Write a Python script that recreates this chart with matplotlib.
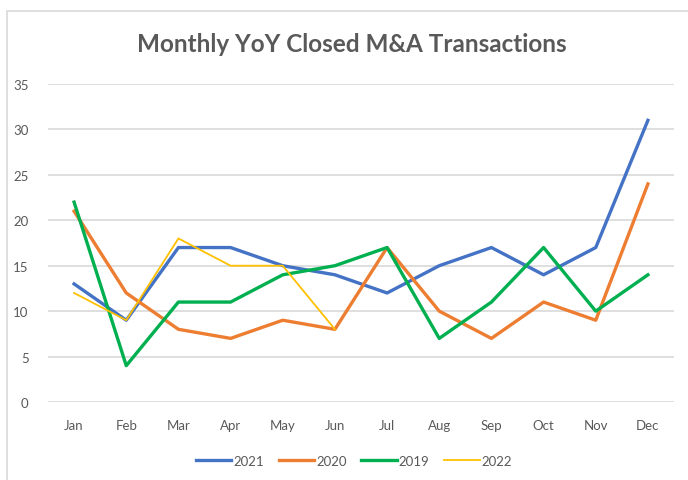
import matplotlib
matplotlib.use('Agg')
import matplotlib.pyplot as plt
from matplotlib.patches import Rectangle

# data
months = ['Jan', 'Feb', 'Mar', 'Apr', 'May', 'Jun', 'Jul', 'Aug', 'Sep', 'Oct', 'Nov', 'Dec']
y2021 = [13, 9, 17, 17, 15, 14, 12, 15, 17, 14, 17, 31]
y2020 = [21, 12, 8, 7, 9, 8, 17, 10, 7, 11, 9, 24]
y2019 = [22, 4, 11, 11, 14, 15, 17, 7, 11, 17, 10, 14]
y2022 = [12, 9, 18, 15, 15, 8]

plt.rcParams['font.family'] = ['Lato', 'DejaVu Sans']
grey = '#595959'

fig = plt.figure(figsize=(6.88, 4.81), dpi=100)
# light frame round the chart
fig.patches.append(Rectangle((7 / 688, -0.1), 1.2, 1 - 12 / 481 + 0.1,
                             transform=fig.transFigure, fill=False,
                             edgecolor='#d9d9d9', linewidth=1.2))
ax = fig.add_axes([48 / 688, 1 - 403 / 481, 626 / 688, 318 / 481])

x = range(len(months))
ax.plot(x, y2021, color='#4472C4', lw=2.4, label='2021')
ax.plot(x, y2020, color='#ED7D31', lw=2.4, label='2020')
ax.plot(x, y2019, color='#00B050', lw=2.4, label='2019')
ax.plot(range(len(y2022)), y2022, color='#FFC000', lw=1.3, label='2022')

ax.set_xlim(-0.5, 11.5)
ax.set_ylim(0, 35)
ax.set_yticks(range(0, 36, 5))
ax.set_xticks(list(x))
ax.set_xticklabels(months)
ax.grid(axis='y', color='#d9d9d9', lw=1.2)
ax.set_axisbelow(True)
for s in ax.spines.values():
    s.set_visible(False)
ax.tick_params(length=0, colors=grey, labelsize=9.5)
ax.tick_params(axis='x', pad=12)
ax.tick_params(axis='y', pad=14)

fig.text(352 / 688, 1 - 45 / 481, 'Monthly YoY Closed M&A Transactions', ha='center', va='center',
         fontsize=17.5, fontweight='bold', color=grey)

fig.legend(loc='center', bbox_to_anchor=(354 / 688, 1 - 462 / 481), ncol=4, frameon=False,
           handlelength=2.7, handletextpad=0.15, columnspacing=1.1,
           labelcolor=grey, fontsize=9.5)

fig.savefig('out.png', dpi=100, facecolor='white')
plt.close()
